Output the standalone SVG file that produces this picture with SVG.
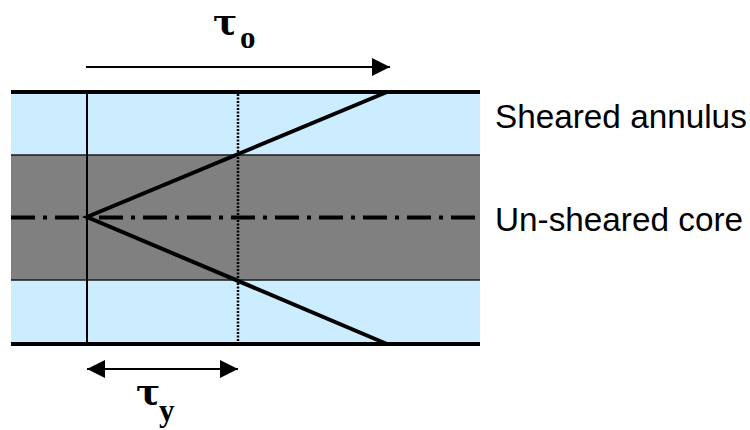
<svg xmlns="http://www.w3.org/2000/svg" width="750" height="430" viewBox="0 0 750 430">
<style>
.lbl{font-family:"Liberation Sans",Arial,sans-serif;font-size:33.3px;fill:#000}
.tau{font-family:"DejaVu Serif","Liberation Serif",serif;font-weight:bold;fill:#000;font-size:36px}
.sub{font-family:"Liberation Serif","Times New Roman",serif;font-weight:bold;fill:#000;font-size:31px}
.arrow{stroke:#000;stroke-width:2;fill:none}
</style>
<defs>
<marker id="ah" markerUnits="userSpaceOnUse" markerWidth="20" markerHeight="18" refX="18" refY="9" orient="auto-start-reverse">
<path d="M0,0 L18,9 L0,18 Z" fill="#000"/>
</marker>
</defs>
<g id="pipe">
<rect x="11" y="92" width="469" height="252" fill="#CCECFF"/>
<rect x="11" y="155" width="469" height="125" fill="#808080"/>
<line x1="11" y1="155" x2="480" y2="155" stroke="#1a1a1a" stroke-width="1.5"/>
<line x1="11" y1="280" x2="480" y2="280" stroke="#1a1a1a" stroke-width="1.5"/>
<line x1="11" y1="92" x2="480" y2="92" stroke="#000" stroke-width="4"/>
<line x1="11" y1="344" x2="480" y2="344" stroke="#000" stroke-width="4"/>
</g>
<g id="profile">
<line x1="11" y1="217.5" x2="480" y2="217.5" stroke="#000" stroke-width="4" stroke-dasharray="24 8 4 8"/>
<line x1="87" y1="92" x2="87" y2="344" stroke="#000" stroke-width="2"/>
<line x1="238" y1="94" x2="238" y2="342" stroke="#000" stroke-width="2.5" stroke-dasharray="2 1.5"/>
<polyline points="387,92 87,217 387,344" fill="none" stroke="#000" stroke-width="4" stroke-linejoin="miter"/>
</g>
<g id="connectors">
<line class="arrow" x1="86" y1="67" x2="390" y2="67" marker-end="url(#ah)"/>
<line class="arrow" x1="87" y1="369" x2="238" y2="369" marker-start="url(#ah)" marker-end="url(#ah)"/>
</g>
<g id="tau-o">
<text class="tau" x="213" y="34">τ</text><text class="sub" x="240" y="48">o</text>
</g>
<g id="tau-y">
<text class="tau" x="136" y="404">τ</text><text class="sub" x="159" y="421">y</text>
</g>
<g id="label-annulus"><text class="lbl" x="495" y="128">Sheared annulus</text></g>
<g id="label-core"><text class="lbl" x="495" y="231">Un-sheared core</text></g>
</svg>
